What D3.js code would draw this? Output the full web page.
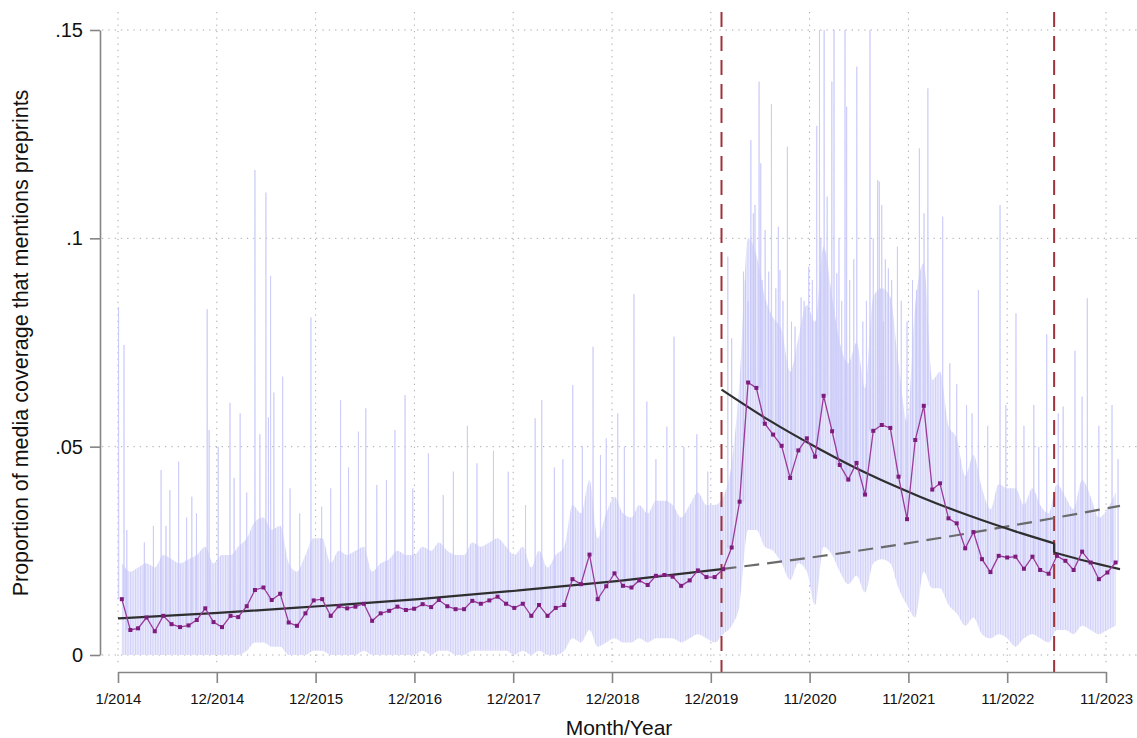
<!DOCTYPE html>
<html>
<head>
<meta charset="utf-8">
<script src="https://cdn.jsdelivr.net/npm/d3@7/dist/d3.min.js"></script>
<style>
  body { margin: 0; background: #fff; }
  text { font-family: "Liberation Sans", Arial, sans-serif; }
</style>
</head>
<body>
<svg width="1137" height="738"></svg>
<script>
// monthly share of coverage mentioning preprints, Jan 2014 .. Dec 2023
var monthlyShare = [
  .0134,.0060,.0064,.0090,.0057,.0094,.0074,.0067,.0071,.0084,.0112,.0079,
  .0067,.0094,.0091,.0117,.0156,.0162,.0132,.0147,.0078,.0070,.0100,.0131,
  .0134,.0094,.0117,.0112,.0116,.0123,.0082,.0100,.0106,.0116,.0108,.0111,
  .0122,.0115,.0132,.0117,.0110,.0110,.0130,.0123,.0131,.0140,.0123,.0113,
  .0123,.0094,.0120,.0094,.0113,.0120,.0182,.0170,.0241,.0134,.0165,.0196,
  .0166,.0162,.0179,.0168,.0190,.0192,.0188,.0166,.0179,.0203,.0187,.0187,
  .0206,.0258,.0368,.0654,.0641,.0555,.0529,.0502,.0425,.0491,.0520,.0476,
  .0622,.0537,.0456,.0421,.0461,.0385,.0538,.0552,.0545,.0428,.0326,.0516,
  .0598,.0397,.0412,.0328,.0316,.0256,.0295,.0230,.0199,.0238,.0234,.0236,
  .0207,.0236,.0204,.0195,.0238,.0226,.0204,.0248,.0222,.0182,.0198,.0222
];

// range of the daily series inside each month (dense part)
var bandLow = [
  0,0,0,0,0,0,0,0,0,0,0,0,
  0,0,0,.001,.003,.003,.002,.002,0,0,0,.001,
  .001,0,0,0,0,.001,0,0,0,0,0,0,
  .001,0,.001,.001,0,0,.001,.001,.001,.001,.001,0,
  .001,0,.001,0,0,.001,.004,.003,.006,.002,.003,.004,
  .003,.003,.004,.003,.004,.004,.004,.003,.004,.005,.004,.003,
  .005,.007,.012,.030,.030,.026,.025,.022,.018,.022,.020,.012,
  .026,.024,.020,.017,.019,.015,.022,.023,.022,.016,.012,.009,
  .020,.016,.016,.012,.010,.007,.009,.005,.004,.005,.004,.002,
  .004,.005,.004,.003,.006,.006,.005,.007,.006,.005,.006,.007
];
var bandHigh = [
  .022,.020,.021,.022,.021,.024,.023,.022,.023,.024,.026,.022,
  .024,.024,.026,.028,.032,.033,.030,.031,.022,.020,.024,.028,
  .028,.022,.025,.024,.025,.026,.020,.022,.023,.025,.024,.024,
  .026,.025,.027,.025,.024,.024,.027,.026,.027,.028,.026,.024,
  .026,.021,.025,.021,.024,.026,.036,.034,.042,.028,.034,.038,
  .034,.033,.036,.034,.037,.037,.036,.033,.036,.039,.036,.036,
  .038,.046,.066,.100,.096,.086,.081,.078,.068,.076,.084,.080,
  .098,.086,.075,.070,.075,.064,.086,.088,.086,.070,.056,.084,
  .094,.066,.068,.055,.052,.043,.048,.040,.035,.041,.040,.040,
  .036,.040,.036,.034,.041,.038,.035,.042,.038,.033,.035,.039
];

// single days that stick out above the band
var spikes = [
  ['2014-01-03',.0835],['2014-01-23',.0744],['2014-02-02',.030],['2014-04-07',.027],
  ['2014-05-10',.031],['2014-06-07',.0444],['2014-06-25',.031],['2014-07-09',.0396],
  ['2014-08-10',.0464],['2014-09-08',.033],['2014-09-27',.038],['2014-10-14',.034],
  ['2014-11-22',.083],['2014-11-29',.054],['2015-01-01',.050],['2015-02-13',.0605],
  ['2015-02-28',.0425],['2015-03-22',.058],['2015-04-15',.039],['2015-05-15',.1164],
  ['2015-06-02',.053],['2015-06-24',.111],['2015-07-03',.057],['2015-07-11',.091],
  ['2015-07-23',.063],['2015-08-24',.0668],['2015-09-20',.040],['2015-10-25',.034],
  ['2015-12-05',.081],['2016-01-13',.0356],['2016-02-15',.040],['2016-03-22',.0612],
  ['2016-04-20',.045],['2016-05-26',.0536],['2016-06-22',.0592],['2016-08-01',.0408],
  ['2016-09-05',.042],['2016-10-06',.054],['2016-11-12',.0624],['2016-12-10',.040],
  ['2017-02-05',.0484],['2017-03-31',.0384],['2017-05-07',.044],['2017-06-27',.055],
  ['2017-08-01',.046],['2017-09-30',.049],['2017-11-23',.044],['2018-01-25',.036],
  ['2018-03-01',.0568],['2018-03-25',.0612],['2018-05-10',.045],['2018-06-10',.047],
  ['2018-07-16',.0648],['2018-08-20',.050],['2018-09-28',.074],['2018-10-25',.048],
  ['2018-11-15',.052],['2018-12-27',.058],['2019-01-20',.050],['2019-02-24',.0866],
  ['2019-04-12',.0608],['2019-05-15',.047],['2019-06-24',.0548],['2019-07-20',.0764],
  ['2019-08-25',.050],['2019-10-11',.053],['2019-11-20',.044],
  ['2020-02-01',.0956],['2020-02-15',.076],['2020-03-29',.092],['2020-04-05',.090],
  ['2020-04-15',.085],['2020-04-25',.1236],['2020-05-04',.106],['2020-05-10',.108],
  ['2020-05-25',.1376],['2020-05-31',.118],['2020-06-05',.090],['2020-06-16',.102],
  ['2020-06-29',.092],['2020-07-09',.1322],['2020-07-25',.088],['2020-08-03',.1028],
  ['2020-08-09',.0924],['2020-08-20',.085],['2020-09-05',.122],['2020-09-20',.080],
  ['2020-10-03',.0788],['2020-10-25',.0858],['2020-11-05',.085],['2020-11-22',.0932],
  ['2020-12-05',.090],['2020-12-21',.127],['2020-12-31',.150],['2021-01-05',.100],
  ['2021-01-17',.150],['2021-01-28',.110],['2021-02-14',.1376],['2021-02-22',.150],
  ['2021-03-04',.0916],['2021-03-12',.100],['2021-03-22',.085],['2021-04-03',.150],
  ['2021-04-09',.1316],['2021-04-20',.090],['2021-05-05',.095],['2021-05-16',.1412],
  ['2021-06-07',.080],['2021-06-20',.085],['2021-07-03',.150],['2021-07-15',.100],
  ['2021-07-31',.114],['2021-08-06',.1136],['2021-08-15',.108],['2021-08-21',.080],
  ['2021-08-28',.095],['2021-09-08',.0928],['2021-09-20',.090],['2021-10-11',.098],
  ['2021-10-25',.085],['2021-11-15',.080],['2021-12-05',.090],['2021-12-20',.0876],
  ['2021-12-30',.1216],['2022-01-16',.106],['2022-01-30',.136],['2022-03-25',.1052],
  ['2022-04-20',.070],['2022-05-15',.065],['2022-06-20',.060],['2022-07-10',.058],
  ['2022-08-02',.0876],['2022-09-05',.055],['2022-10-20',.108],['2022-11-10',.060],
  ['2022-12-17',.082],['2023-01-15',.055],['2023-02-20',.060],['2023-03-10',.050],
  ['2023-04-08',.077],['2023-05-20',.058],['2023-06-07',.0596],['2023-07-20',.073],
  ['2023-08-15',.062],['2023-09-03',.0856],['2023-10-15',.055],['2023-12-02',.060],
  ['2023-12-24',.047]
];

// fitted trends
var fitPre = [['2014-01-01',.0088],['2015-01-01',.0101],['2016-01-01',.0117],['2017-01-01',.0134],
  ['2018-01-01',.0155],['2019-01-01',.0178],['2020-01-09',.0206]];
var fitCounter = [['2020-01-09',.0206],['2021-01-01',.0237],['2022-01-01',.0273],
  ['2023-01-01',.0314],['2023-12-31',.0358]];
var fitPandemic = [['2020-01-09',.0637],['2020-07-01',.0563],['2021-01-01',.0494],['2021-07-01',.0433],
  ['2022-01-01',.0380],['2022-07-01',.0334],['2023-01-01',.0293],['2023-05-05',.0268]];
var fitPost = [['2023-05-05',.0246],['2023-09-01',.0225],['2023-12-31',.0206]];

var breakDates = ['2020-01-09', '2023-05-05'];

var xTickLabels = ['1/2014','12/2014','12/2015','12/2016','12/2017','12/2018',
  '12/2019','11/2020','11/2021','11/2022','11/2023'];
var yTicks = [0, .05, .1, .15];
var yTickLabels = ['0', '.05', '.1', '.15'];

var parse = d3.utcParse('%Y-%m-%d');
var start = parse('2014-01-01');
var xTicks = xTickLabels.map(function(d, i){ return d3.utcDay.offset(start, 360 * i); });
var months = monthlyShare.map(function(d, i){ return new Date(Date.UTC(2014, i, 15)); });

var svg = d3.select('svg');
var x = d3.scaleUtc().domain([start, xTicks[xTicks.length - 1]]).range([118, 1106]);
var y = d3.scaleLinear().domain([0, .15]).range([655, 30]);

var defs = svg.append('defs');
var pat = defs.append('pattern')
    .attr('id', 'daily')
    .attr('patternUnits', 'userSpaceOnUse')
    .attr('width', 2.5)
    .attr('height', 6);
pat.append('rect').attr('width', 2.5).attr('height', 6).attr('fill', '#ebebfd');
pat.append('line').attr('x1', .6).attr('x2', .6).attr('y1', 0).attr('y2', 6)
    .attr('stroke', '#c4c4f8').attr('stroke-width', .8);
defs.append('filter')
    .attr('id', 'soft')
    .attr('x', '-2%').attr('y', '-5%').attr('width', '104%').attr('height', '110%')
    .append('feGaussianBlur')
    .attr('stdDeviation', .5);

// grid
svg.append('g').selectAll('line')
    .data(xTicks)
    .enter()
    .append('line')
    .attr('x1', function(d){ return x(d); })
    .attr('x2', function(d){ return x(d); })
    .attr('y1', 12)
    .attr('y2', 667)
    .attr('stroke', '#a8a8a8')
    .attr('stroke-width', 1)
    .attr('stroke-dasharray', '1.3,5');

svg.append('g').selectAll('line')
    .data(yTicks)
    .enter()
    .append('line')
    .attr('x1', 102)
    .attr('x2', 1137)
    .attr('y1', function(d){ return y(d); })
    .attr('y2', function(d){ return y(d); })
    .attr('stroke', '#a8a8a8')
    .attr('stroke-width', 1)
    .attr('stroke-dasharray', '1.3,5');

// daily series: band + spikes
var band = d3.area()
    .curve(d3.curveMonotoneX)
    .x(function(d, i){ return x(months[i]); })
    .y0(function(d, i){ return y(bandLow[i]); })
    .y1(function(d, i){ return y(bandHigh[i]); });

svg.append('path')
    .datum(monthlyShare)
    .attr('d', band)
    .attr('fill', 'url(#daily)')
    .attr('filter', 'url(#soft)');

svg.append('g').selectAll('path')
    .data(spikes)
    .enter()
    .append('path')
    .attr('d', function(d){
        var t = parse(d[0]);
        var m = (t.getUTCFullYear() - 2014) * 12 + t.getUTCMonth();
        var base = y(monthlyShare[m]);
        return 'M' + x(d3.utcDay.offset(t, -1)) + ',' + base +
               'L' + x(t) + ',' + y(Math.min(d[1], .15)) +
               'L' + x(d3.utcDay.offset(t, 1)) + ',' + base;
    })
    .attr('fill', 'none')
    .attr('stroke', '#c6c6f9')
    .attr('stroke-width', .7);

// intervention lines
svg.append('g').selectAll('line')
    .data(breakDates)
    .enter()
    .append('line')
    .attr('x1', function(d){ return x(parse(d)); })
    .attr('x2', function(d){ return x(parse(d)); })
    .attr('y1', 12)
    .attr('y2', 672)
    .attr('stroke', '#a0333a')
    .attr('stroke-width', 2)
    .attr('stroke-dasharray', '15,9');

// fitted trends
var fitLine = d3.line()
    .curve(d3.curveMonotoneX)
    .x(function(d){ return x(parse(d[0])); })
    .y(function(d){ return y(d[1]); });

svg.append('path')
    .datum(fitCounter)
    .attr('d', fitLine)
    .attr('fill', 'none')
    .attr('stroke', '#6b6b6b')
    .attr('stroke-width', 2.2)
    .attr('stroke-dasharray', '15,8');

[fitPre, fitPandemic, fitPost].forEach(function(seg){
    svg.append('path')
        .datum(seg)
        .attr('d', fitLine)
        .attr('fill', 'none')
        .attr('stroke', '#2f2f2f')
        .attr('stroke-width', 2.2);
});
// step at the second break
svg.append('line')
    .attr('x1', x(parse(breakDates[1])))
    .attr('x2', x(parse(breakDates[1])))
    .attr('y1', y(fitPandemic[fitPandemic.length - 1][1]))
    .attr('y2', y(fitPost[0][1]))
    .attr('stroke', '#2f2f2f')
    .attr('stroke-width', 2.2);

// monthly series
var monthLine = d3.line()
    .x(function(d, i){ return x(months[i]); })
    .y(function(d){ return y(d); });

svg.append('path')
    .datum(monthlyShare)
    .attr('d', monthLine)
    .attr('fill', 'none')
    .attr('stroke', '#9b3a98')
    .attr('stroke-width', 1.3);

svg.append('g').selectAll('rect')
    .data(monthlyShare)
    .enter()
    .append('rect')
    .attr('x', function(d, i){ return x(months[i]) - 2; })
    .attr('y', function(d){ return y(d) - 2; })
    .attr('width', 4)
    .attr('height', 4)
    .attr('fill', '#7e1c7e');

// axes
var yAxis = svg.append('g')
    .attr('transform', 'translate(100,0)')
    .call(d3.axisLeft(y).tickValues(yTicks)
        .tickFormat(function(d, i){ return yTickLabels[i]; })
        .tickSize(10).tickSizeOuter(0).tickPadding(7));
var xAxis = svg.append('g')
    .attr('transform', 'translate(0,672)')
    .call(d3.axisBottom(x).tickValues(xTicks)
        .tickFormat(function(d, i){ return xTickLabels[i]; })
        .tickSize(11).tickSizeOuter(0).tickPadding(10));

[yAxis, xAxis].forEach(function(g){
    g.select('.domain').attr('stroke', '#858585').attr('stroke-width', 1.6);
    g.selectAll('.tick line').attr('stroke', '#858585').attr('stroke-width', 1.6);
    g.selectAll('text').attr('fill', '#111').style('font-family', '"Liberation Sans", Arial, sans-serif');
});
yAxis.selectAll('text').style('font-size', '20px');
xAxis.selectAll('text').style('font-size', '15px');

svg.append('text')
    .attr('transform', 'translate(28,343) rotate(-90)')
    .attr('text-anchor', 'middle')
    .style('font-size', '21.5px')
    .attr('fill', '#111')
    .text('Proportion of media coverage that mentions preprints');

svg.append('text')
    .attr('x', 619)
    .attr('y', 735)
    .attr('text-anchor', 'middle')
    .style('font-size', '21px')
    .attr('fill', '#111')
    .text('Month/Year');
</script>
</body>
</html>
